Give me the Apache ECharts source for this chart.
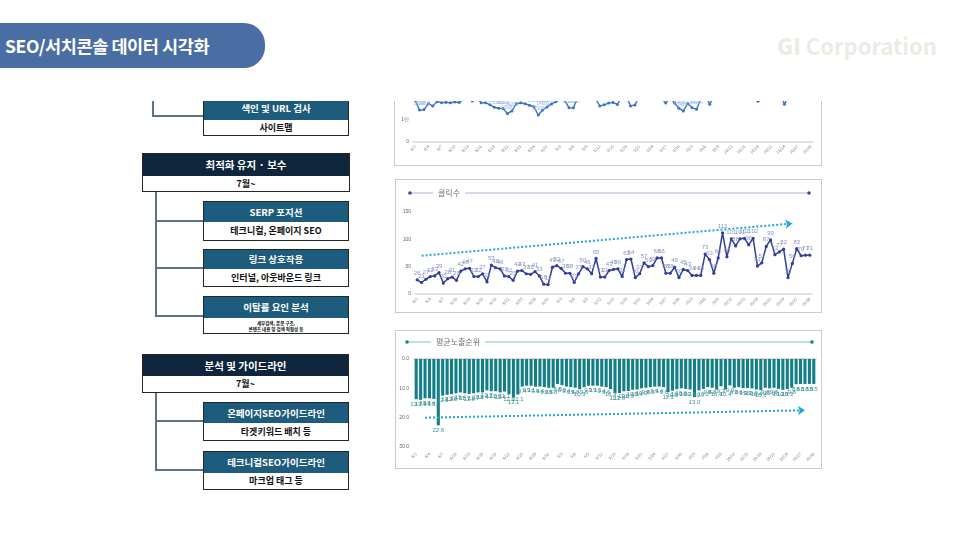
<!DOCTYPE html>
<html>
<head>
<meta charset="utf-8">
<script src="https://cdn.jsdelivr.net/npm/echarts/dist/echarts.min.js"></script>
<style>
body{margin:0;background:#fff;font-family:"Noto Sans CJK KR","Noto Sans",sans-serif;}
#page{position:relative;width:966px;height:543px;overflow:hidden;background:#fff;}
.tab{position:absolute;left:-20px;top:23px;width:285px;height:45px;background:#4a6ea4;border-radius:0 21px 21px 0;}
.tab span{position:absolute;left:25px;top:0;line-height:45px;color:#fff;font-weight:700;font-size:17.5px;letter-spacing:-0.4px;}
.logo{position:absolute;left:777px;top:30px;font-size:22px;font-weight:600;color:#eeebe4;line-height:30px;}
.logo b{font-weight:800;}
#clip{position:absolute;left:0;top:101px;width:966px;height:442px;overflow:hidden;}
#inner{position:absolute;left:0;top:-101px;width:966px;height:543px;}
.ln{position:absolute;background:#5d7383;}
.bx{position:absolute;box-sizing:border-box;border:1px solid #262626;background:#fff;}
.bx .hd{box-sizing:border-box;color:#fff;font-weight:700;text-align:center;}
.bx .sb{color:#111;font-weight:700;text-align:center;}
.dark .hd{background:#0e253c;font-size:10.5px;}
.teal .hd{background:#1d5c7c;font-size:9.5px;}
.frame{position:absolute;box-sizing:border-box;border:1px solid #cbcbcb;background:#fff;}
.chart{position:absolute;left:0;top:0;}
</style>
</head>
<body>
<div id="page">
  <div class="tab"><span>SEO/서치콘솔 데이터 시각화</span></div>
  <div class="logo"><b>GI</b> Corporation</div>
  <div id="clip"><div id="inner">
    <div id="diagram"></div>
    <div class="frame" style="left:394px;top:32px;width:428px;height:134px;"><div id="chart1" class="chart" style="width:426px;height:132px;"></div></div>
    <div class="frame" style="left:395px;top:179px;width:427px;height:134px;"><div id="chart2" class="chart" style="width:425px;height:132px;"></div></div>
    <div class="frame" style="left:395px;top:330px;width:427px;height:139px;"><div id="chart3" class="chart" style="width:425px;height:137px;"></div></div>
  </div></div>
</div>
<script>
// x축 날짜 (8/1 ~ 10/30)
var dates = ['8/1','8/2','8/3','8/4','8/5','8/6','8/7','8/8','8/9','8/10','8/11','8/12','8/13','8/14','8/15','8/16','8/17','8/18','8/19','8/20','8/21','8/22','8/23','8/24','8/25','8/26','8/27','8/28','8/29','8/30','8/31',
  '9/1','9/2','9/3','9/4','9/5','9/6','9/7','9/8','9/9','9/10','9/11','9/12','9/13','9/14','9/15','9/16','9/17','9/18','9/19','9/20','9/21','9/22','9/23','9/24','9/25','9/26','9/27','9/28','9/29','9/30',
  '10/1','10/2','10/3','10/4','10/5','10/6','10/7','10/8','10/9','10/10','10/11','10/12','10/13','10/14','10/15','10/16','10/17','10/18','10/19','10/20','10/21','10/22','10/23','10/24','10/25','10/26','10/27','10/28','10/29','10/30'];

// 노출수 (상단, 위쪽은 잘림)
var imprData = [19000,14600,14800,17500,16500,18500,18000,18200,17900,18300,18100,19500,21000,18700,20500,17900,18000,17000,15900,15400,15300,12900,14200,17500,17900,17500,16800,16100,12300,14600,
  16000,17400,18400,19500,19200,15600,15600,20500,22000,23000,21500,20000,16500,17000,17800,18100,17200,20500,21000,16500,16900,21000,23000,22500,21000,20800,19800,17800,20500,17800,
  15400,14200,17600,15600,15000,19800,21500,17300,20500,22500,24000,23500,22000,23000,25000,24500,23000,22000,18600,21000,23500,25000,24000,22500,17300,21000,23000,24000,23500,22800,23000];
var imprTicks = [0, 10000, 20000, 30000];

// 클릭수
var clickData = [26,21,27,32,33,39,20,28,31,25,42,46,47,32,32,37,22,53,48,46,33,32,25,42,43,37,36,41,33,18,
  17,49,52,47,38,38,21,37,50,46,37,65,31,31,43,45,46,32,63,64,30,37,57,50,52,66,66,38,38,49,
  30,45,43,34,34,34,73,63,38,66,112,68,101,88,101,102,90,102,51,57,87,99,72,77,82,30,56,83,70,71,71];
var clickTrend = [70, 129];

// 평균노출순위
var rankData = [13.7,13.9,13.4,13.4,13.6,22.6,12.5,12.2,12.0,11.7,11.4,11.7,11.9,11.7,11.4,11.4,10.7,11.0,11.0,11.4,11.1,12.0,13.1,12.1,9.4,9.1,9.1,9.4,9.4,9.6,
  9.8,9.8,8.5,8.9,9.4,9.6,9.8,10.3,9.6,9.1,9.1,9.1,9.4,9.6,10.3,11.7,11.6,11.0,10.9,10.5,10.4,10.0,9.8,9.6,9.4,9.4,9.6,11.3,10.8,10.3,
  10.0,10.2,10.4,13.0,10.7,10.2,9.6,9.8,10.4,9.3,10.4,9.0,9.8,9.6,9.9,9.9,10.0,10.4,10.6,9.8,10.0,9.8,10.2,10.5,10.3,9.8,8.6,8.5,8.5,8.5,8.5];
var rankTrend = [20.0, 17.5];

// 왼쪽 단계도
function box(cls, x, y, w, h1, h2, title, sub, subStyle){
    var html = '<div class="bx '+cls+'" style="left:'+x+'px;top:'+y+'px;width:'+w+'px;height:'+(h1+h2)+'px;">';
    html += '<div class="hd" style="height:'+h1+'px;line-height:'+h1+'px;">'+title+'</div>';
    html += '<div class="sb" style="height:'+(h2-2)+'px;'+(subStyle || ('line-height:'+(h2-2)+'px;font-size:9px;'))+'">'+sub+'</div>';
    html += '</div>';
    return html;
}
function line(x, y, w, h){
    return '<div class="ln" style="left:'+x+'px;top:'+y+'px;width:'+w+'px;height:'+h+'px;"></div>';
}
var d = '';
d += line(152, 88, 2, 29) + line(152, 115, 52, 2);
d += line(155, 190, 2, 127) + line(155, 220, 49, 2) + line(155, 267, 49, 2) + line(155, 315, 49, 2);
d += line(155, 391, 2, 80) + line(155, 420, 49, 2) + line(155, 469, 49, 2);
d += box('teal', 203, 96, 146, 23, 17, '색인 및 URL 검사', '사이트맵');
d += box('dark', 142, 153, 208, 22, 17, '최적화 유지 · 보수', '7월~');
d += box('teal', 203, 201, 146, 20, 20, 'SERP 포지션', '테크니컬, 온페이지 SEO');
d += box('teal', 203, 249, 146, 19, 19, '링크 상호작용', '인터널, 아웃바운드 링크');
d += box('teal', 203, 296, 146, 21, 17, '이탈률 요인 분석', '세부검색, 본문 구조,<br>콘텐츠 내용 및 검색 적합성 등', 'font-size:4.5px;line-height:6px;padding-top:2px;');
d += box('dark', 142, 354, 207, 21, 18, '분석 및 가이드라인', '7월~');
d += box('teal', 203, 402, 146, 20, 19, '온페이지SEO가이드라인', '타겟키워드 배치 등');
d += box('teal', 203, 451, 146, 21, 18, '테크니컬SEO가이드라인', '마크업 태그 등');
document.getElementById('diagram').innerHTML = d;

var baseFont = '"Noto Sans CJK KR","Noto Sans",sans-serif';
function xAxisOpt(){
    return {
        type: 'category',
        data: dates,
        boundaryGap: true,
        axisLine: {lineStyle: {color: '#d6d6d6', width: 1.5}},
        axisTick: {show: false},
        axisLabel: {interval: 2, rotate: 45, fontSize: 4, color: '#7a7a7a', margin: 4, fontFamily: baseFont}
    };
}
function legendDeco(y, x1, x2, tx, text, lineColor, dotColor){
    return [
        {type: 'line', silent: true, shape: {x1: x1, y1: y, x2: x2, y2: y}, style: {stroke: lineColor, lineWidth: 1.5}},
        {type: 'circle', silent: true, shape: {cx: x1, cy: y, r: 1.8}, style: {fill: dotColor}},
        {type: 'circle', silent: true, shape: {cx: x2, cy: y, r: 1.8}, style: {fill: dotColor}},
        {type: 'text', silent: true, x: tx, y: y, style: {text: text, align: 'center', verticalAlign: 'middle', fill: '#6b6f7c', font: '8px ' + baseFont, backgroundColor: '#fff', padding: [0, 5]}}
    ];
}

// 차트1 노출수
var chart1 = echarts.init(document.getElementById('chart1'));
chart1.setOption({
    animation: false,
    grid: {left: 18, right: 8, top: 43.6, bottom: 23.3},
    xAxis: xAxisOpt(),
    yAxis: {
        type: 'value', min: imprTicks[0], max: imprTicks[imprTicks.length - 1], interval: 10000,
        splitLine: {show: false}, axisLine: {show: false}, axisTick: {show: false},
        axisLabel: {fontSize: 5, color: '#666', margin: 4, formatter: function(v){ return v === 0 ? '0' : (v / 10000) + '만'; }}
    },
    series: [{
        type: 'line', data: imprData, symbol: 'circle', symbolSize: 3, showAllSymbol: true,
        lineStyle: {color: '#3e72c8', width: 1.4}, itemStyle: {color: '#3e72c8'},
        label: {show: true, position: 'top', distance: 2, fontSize: 4.5, color: '#93b3e3'}
    }]
});

// 차트2 클릭수
var chart2 = echarts.init(document.getElementById('chart2'));
chart2.setOption({
    animation: false,
    grid: {left: 19, right: 9, top: 32, bottom: 18},
    graphic: legendDeco(13, 14, 413, 53, '클릭수', '#c9cde6', '#3b4799'),
    xAxis: xAxisOpt(),
    yAxis: {
        type: 'value', min: 0, max: 150, interval: 50,
        splitLine: {show: false}, axisLine: {show: false}, axisTick: {show: false},
        axisLabel: {fontSize: 5, color: '#666', margin: 4}
    },
    series: [{
        type: 'line', data: clickData, symbol: 'circle', symbolSize: 3.2, showAllSymbol: true,
        lineStyle: {color: '#2f3d9c', width: 1.5}, itemStyle: {color: '#2f3d9c'},
        label: {show: true, position: 'top', distance: 2, fontSize: 6, color: '#8a91c8'},
        markLine: {
            silent: true, symbol: ['none', 'arrow'], symbolSize: 7,
            label: {show: false},
            lineStyle: {color: '#1ea6de', type: 'dotted', width: 2},
            data: [[{coord: [dates[1], clickTrend[0]]}, {coord: [dates[86], clickTrend[1]]}]]
        }
    }]
});

// 차트3 평균노출순위
var chart3 = echarts.init(document.getElementById('chart3'));
chart3.setOption({
    animation: false,
    grid: {left: 18, right: 5, top: 28, bottom: 21},
    graphic: legendDeco(11, 11, 416, 62, '평균노출순위', '#a9d6d7', '#178289'),
    xAxis: [{
        type: 'category', data: dates, boundaryGap: true, position: 'bottom',
        axisLine: {show: false}, axisTick: {show: false},
        axisLabel: {interval: 2, rotate: 45, fontSize: 4, color: '#7a7a7a', margin: 6, fontFamily: baseFont}
    }, {
        type: 'category', data: dates, boundaryGap: true, position: 'top',
        axisLine: {show: true, lineStyle: {color: '#d0d0d0', width: 1.5}}, axisTick: {show: false}, axisLabel: {show: false}
    }],
    yAxis: {
        type: 'value', inverse: true, min: 0, max: 30, interval: 10,
        splitLine: {show: false}, axisLine: {show: false}, axisTick: {show: false},
        axisLabel: {fontSize: 5, color: '#666', margin: 5, formatter: function(v){ return v.toFixed(1); }}
    },
    series: [{
        type: 'bar', data: rankData, barWidth: '70%',
        itemStyle: {color: '#117f86'},
        label: {show: true, position: 'bottom', distance: 2, fontSize: 6, color: '#3a9196', formatter: function(p){ return p.value.toFixed(1); }},
        markLine: {
            silent: true, symbol: ['none', 'arrow'], symbolSize: 7,
            label: {show: false},
            lineStyle: {color: '#1ea6de', type: 'dotted', width: 2},
            data: [[{coord: [dates[2], rankTrend[0]]}, {coord: [dates[88], rankTrend[1]]}]]
        }
    }]
});
</script>
</body>
</html>
